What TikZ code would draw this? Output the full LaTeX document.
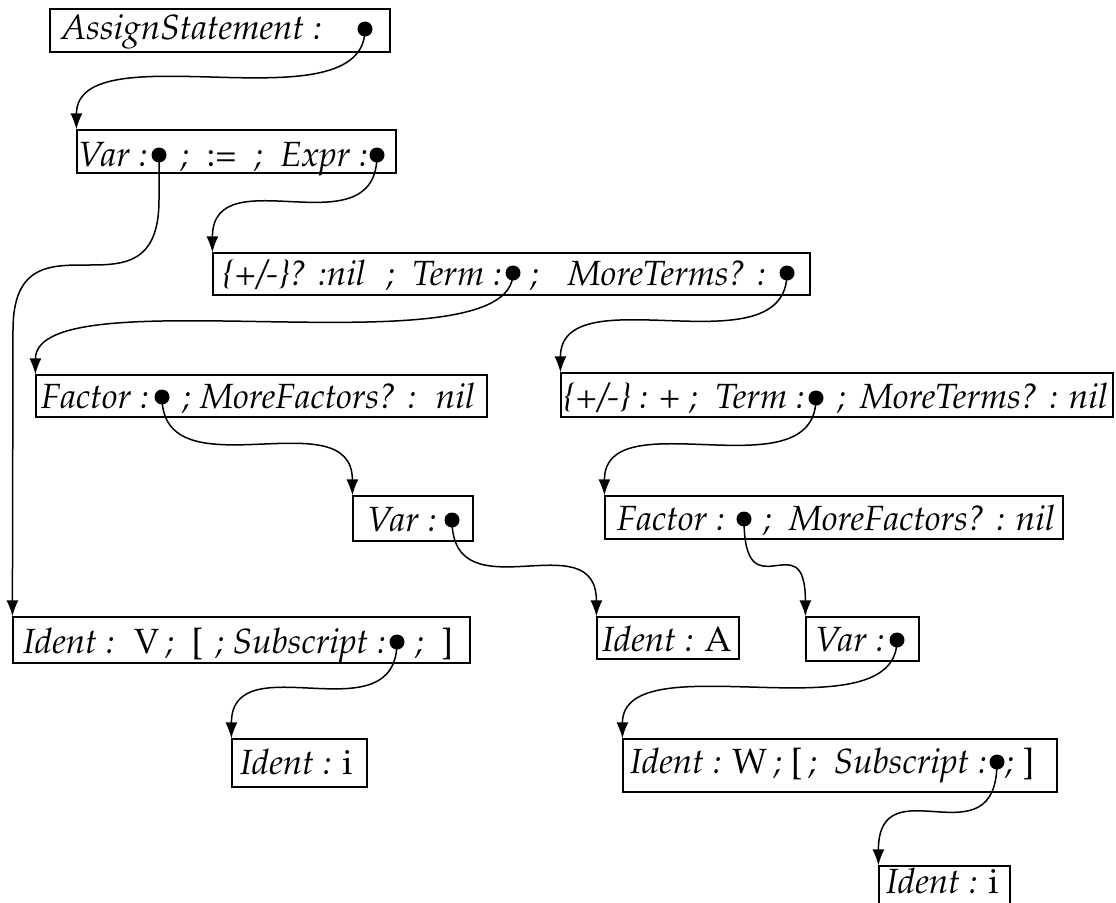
\documentclass[tikz,border=0pt]{standalone}
\usepackage[T1]{fontenc}
\usepackage{mathpazo}
\usetikzlibrary{arrows.meta,fit}
\tikzset{
  box/.style={draw, line width=1.2pt, inner sep=0pt, rectangle},
  txt/.style={anchor=base west, inner sep=0pt, font=\fontsize{35}{42}\selectfont},
  txtr/.style={txt, anchor=base east},
  dotn/.style={circle, fill, inner sep=0pt, minimum size=15pt},
  conn/.style={line width=1.5pt, -{Latex[length=16pt,width=12pt]}},
}
\newcommand\linkit[2]{\draw[conn] (#1.center) .. controls (#1.center |- #2.north west) and (#2.north west |- #1.center) .. (#2.north west);}
\begin{document}
\begin{tikzpicture}[x=1pt,y=-1pt]
\useasboundingbox (0,0) rectangle (1116,902);
% boxes
\node[box, fit={(50,9) (390,52)}] (b1) {};
\node[box, fit={(77,130) (396,173)}] (b2) {};
\node[box, fit={(213,253) (810,295)}] (b3) {};
\node[box, fit={(36,375) (487,417)}] (b4) {};
\node[box, fit={(561,373) (1113,417)}] (b5) {};
\node[box, fit={(353,496) (473,541)}] (b6) {};
\node[box, fit={(605,496) (1063,539)}] (b7) {};
\node[box, fit={(13,617) (470,663)}] (b8) {};
\node[box, fit={(597,617) (739,659)}] (b9) {};
\node[box, fit={(806,617) (919,661)}] (b10) {};
\node[box, fit={(232,739) (367,787)}] (b11) {};
\node[box, fit={(623,739) (1057,792)}] (b12) {};
\node[box, fit={(879,866) (1010,914)}] (b13) {};
% texts
\node[txt] (t1) at (61,39) {\textit{AssignStatement :}};
\node[txt] (t2a) at (78,166) {\textit{Var :}};
\node[txtr] (t2b) at (368,166) {\textit{;} \ := \ \textit{; \ Expr :}};
\node[txt] (t3a) at (223,285) {\textit{\{+/-\}? :nil}};
\node[txtr] (t3b) at (502,285) {\textit{; \ Term :}};
\node[txt] (t3c) at (530,285) {\textit{;}};
\node[txtr] (t3d) at (766,285) {\textit{MoreTerms? :}};
\node[txt] (t4a) at (41,408) {\textit{Factor :}};
\node[txt] (t4b) at (182,408) {\textit{;}};
\node[txtr] (t4c) at (475,408) {\textit{MoreFactors? : \ nil}};
\node[txt] (t5a) at (564,408) {\textit{\{+/-\} :} + \textit{; \ Term :}};
\node[txt] (t5b) at (837,408) {\textit{;}};
\node[txtr] (t5c) at (1108,408) {\textit{MoreTerms? : nil}};
\node[txt] (t6) at (367,531) {\textit{Var :}};
\node[txt] (t7a) at (617,530) {\textit{Factor :}};
\node[txt] (t7b) at (763,530) {\textit{;}};
\node[txtr] (t7c) at (1055,530) {\textit{MoreFactors? : nil}};
\node[txt] (t8a) at (23,653) {\textit{Ident :} \ V\,\textit{;} \ [};
\node[txtr] (t8b) at (386,653) {\textit{; Subscript :}};
\node[txt] (t8c) at (415,653) {\textit{;} \ ]};
\node[txt] (t9) at (602,651) {\textit{Ident :} A};
\node[txt] (t10) at (815,651) {\textit{Var :}};
\node[txt] (t11) at (240,774) {\textit{Ident :} i};
\node[txt] (t12a) at (630,773) {\textit{Ident :} W\,\textit{;} [\,\textit{;}};
\node[txtr] (t12b) at (987,773) {\textit{Subscript :}};
\node[txt] (t12c) at (1005,773) {\textit{;} ]};
\node[txt] (t13) at (886,893) {\textit{Ident :} i};
% dots
\node[dotn] (d1) at (365,29) {};
\node[dotn] (d2) at (159,155) {};
\node[dotn] (d3) at (377,155) {};
\node[dotn] (d4) at (513,273) {};
\node[dotn] (d5) at (787,273) {};
\node[dotn] (d6) at (162,397) {};
\node[dotn] (d7) at (816,398) {};
\node[dotn] (d8) at (452,520) {};
\node[dotn] (d9) at (744,519) {};
\node[dotn] (d10) at (397,642) {};
\node[dotn] (d11) at (897,640) {};
\node[dotn] (d12) at (997,762) {};
% connectors
\linkit{d1}{b2}
\coordinate (c1) at (159,200);
\coordinate (c2) at (13,330);
\draw[conn] (d2.center) -- (c1) .. controls (c1 |- c2) and (c2 |- c1) .. (c2) -- (b8.north west);
\linkit{d3}{b3}
\linkit{d4}{b4}
\linkit{d5}{b5}
\linkit{d6}{b6}
\linkit{d7}{b7}
\linkit{d8}{b9}
\linkit{d9}{b10}
\linkit{d10}{b11}
\linkit{d11}{b12}
\linkit{d12}{b13}
\end{tikzpicture}
\end{document}
